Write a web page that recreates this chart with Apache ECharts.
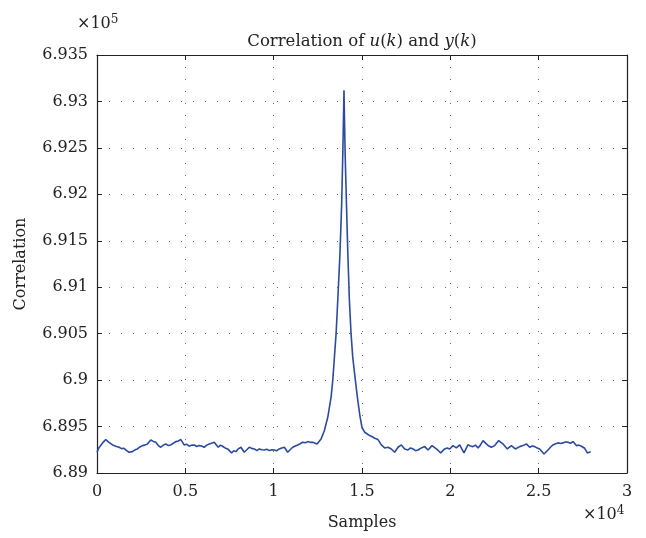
<!DOCTYPE html>
<html>
<head>
<meta charset="utf-8">
<script src="https://cdn.jsdelivr.net/npm/echarts@6/dist/echarts.min.js"></script>
<style>
html,body{margin:0;padding:0;background:#fff;}
#c1{width:646px;height:538px;}
</style>
</head>
<body>
<div id="c1"></div>
<script type="text/javascript">
// sample index (raw) and correlation (raw)
var samples = [
  0, 100, 208, 350, 491, 590, 681, 820, 964, 1100, 1248, 1390, 1531, 1680, 1815, 2004, 2150, 2287,
  2430, 2571, 2700, 2854, 3043, 3190, 3327, 3470, 3611, 3750, 3894, 4040, 4178, 4320, 4461, 4600, 4745, 4934,
  5080, 5217, 5360, 5501, 5640, 5784, 5920, 6068, 6210, 6352, 6490, 6635, 6862, 6990, 7108, 7250, 7391, 7618,
  7740, 7864, 8000, 8147, 8336, 8480, 8620, 8760, 8904, 9050, 9187, 9330, 9471, 9610, 9754, 9900, 10038, 10180, 10321,
  10460, 10605, 10794, 10930, 11078, 11220, 11361, 11500, 11645, 11790, 11928, 12070, 12212, 12457, 12684, 12873,
  13062, 13252, 13346, 13440, 13534, 13628, 13750, 13850, 13920, 13960,
  13980, 14010, 14050, 14120, 14200, 14286, 14380, 14474, 14624, 14756,
  14887, 15000, 15151, 15300, 15434, 15580, 15717, 15906, 16094, 16283, 16472, 16660,
  16849, 17038, 17227, 17415, 17604, 17750, 17887, 18030, 18170, 18359, 18548, 18736,
  18963, 19208, 19330, 19453, 19680, 19820, 19963, 20152, 20340, 20529, 20650, 20774, 21000,
  21140, 21283, 21420, 21566, 21700, 21850, 22038, 22180, 22321, 22510, 22737, 22860, 22982, 23227, 23453,
  23680, 23925, 24114, 24303, 24492, 24640, 24775, 24920, 25058, 25303, 25529, 25680, 25813,
  25950, 26096, 26240, 26379, 26520, 26662, 26800, 26945, 27134, 27280, 27417, 27605, 27756, 27945
];
var correlation = [
  689223, 689270, 689295, 689330, 689360, 689340, 689331, 689310, 689295, 689285, 689277, 689262, 689266, 689240, 689223, 689230, 689250, 689259,
  689280, 689295, 689300, 689313, 689356, 689340, 689331, 689295, 689277, 689300, 689313, 689295, 689302, 689320, 689338, 689345, 689360, 689302,
  689310, 689288, 689300, 689302, 689285, 689295, 689290, 689277, 689300, 689313, 689320, 689331, 689277, 689300, 689288, 689270, 689259, 689216,
  689240, 689230, 689260, 689277, 689223, 689250, 689277, 689265, 689259, 689240, 689259, 689250, 689248, 689255, 689241, 689250, 689248, 689240, 689259,
  689270, 689277, 689223, 689250, 689277, 689290, 689302, 689315, 689331, 689325, 689338, 689330, 689331, 689313, 689367, 689457,
  689600, 689820, 690000, 690250, 690500, 690860, 691350, 691900, 692500, 692900,
  693120, 692800, 692400, 691900, 691350, 690860, 690500, 690250, 690000, 689790,
  689610, 689490, 689439, 689420, 689403, 689390, 689374, 689360, 689302, 689270, 689277, 689259,
  689223, 689277, 689302, 689259, 689248, 689270, 689259, 689240, 689248, 689270, 689284, 689248,
  689295, 689259, 689240, 689216, 689259, 689270, 689259, 689295, 689270, 689302, 689260, 689216, 689306,
  689290, 689284, 689300, 689270, 689300, 689349, 689313, 689290, 689277, 689295, 689349, 689330, 689313, 689259, 689295,
  689259, 689284, 689295, 689313, 689277, 689290, 689284, 689270, 689259, 689205, 689248, 689280, 689302,
  689315, 689324, 689318, 689324, 689335, 689331, 689320, 689338, 689295, 689300, 689288, 689266, 689216, 689230
];
var xTicks = ['0', '0.5', '1', '1.5', '2', '2.5', '3'];
var yTicks = ['6.89', '6.895', '6.9', '6.905', '6.91', '6.915', '6.92', '6.925', '6.93', '6.935'];

var font = '"DejaVu Serif", "Liberation Serif", serif';
var txt = '#222';
var fs = 16;

var points = [];
for (var i = 0; i < samples.length; ++i) {
  points.push([samples[i], correlation[i]]);
}

var chart = echarts.init(document.getElementById('c1'));
var gridLine = {show: true, lineStyle: {color: '#666', width: 1, type: [1, 11]}};
var frame = {show: true, onZero: false, lineStyle: {color: '#222', width: 1.2}};
var tick = {show: true, inside: true, length: 5, lineStyle: {color: '#222'}};
var sup = function (p) {
  return {
    n: {fontFamily: font, fontSize: fs, fill: txt},
    s: {fontFamily: font, fontSize: 12, fill: txt, verticalAlign: 'top', padding: [0, 0, 8, 0]}
  };
};

var option = {
  animation: false,
  backgroundColor: '#fff',
  grid: {left: 97, right: 19, top: 55, bottom: 65},
  xAxis: [{
    type: 'value', position: 'bottom', min: 0, max: 30000, interval: 5000,
    name: 'Samples', nameLocation: 'middle', nameGap: 42,
    nameTextStyle: {fontFamily: font, fontSize: fs, color: txt},
    axisLine: frame, axisTick: tick, splitLine: gridLine,
    axisLabel: {
      margin: 11, fontFamily: font, fontSize: fs, color: txt,
      formatter: function (v) { return xTicks[Math.round(v / 5000)]; }
    }
  }, {
    type: 'value', position: 'top', min: 0, max: 30000, interval: 5000,
    axisLine: frame, axisTick: tick, splitLine: {show: false}, axisLabel: {show: false}
  }],
  yAxis: [{
    type: 'value', position: 'left', min: 689000, max: 693500, interval: 500,
    name: 'Correlation', nameLocation: 'middle', nameGap: 68,
    nameTextStyle: {fontFamily: font, fontSize: fs, color: txt},
    axisLine: frame, axisTick: tick, splitLine: gridLine,
    axisLabel: {
      margin: 9, fontFamily: font, fontSize: fs, color: txt,
      formatter: function (v) { return yTicks[Math.round((v - 689000) / 500)]; }
    }
  }, {
    type: 'value', position: 'right', min: 689000, max: 693500, interval: 500,
    axisLine: frame, axisTick: tick, splitLine: {show: false}, axisLabel: {show: false}
  }],
  graphic: [{
    // title, centred over the plot area
    type: 'text', x: 362, y: 42,
    style: {
      text: '{n|Correlation of }{i|u}{n|(}{i|k}{n|) and }{i|y}{n|(}{i|k}{n|)}',
      align: 'center', verticalAlign: 'middle',
      rich: {
        n: {fontFamily: font, fontSize: 16.5, fill: txt},
        i: {fontFamily: font, fontSize: 16.5, fill: txt, fontStyle: 'italic'}
      }
    }
  }, {
    type: 'text', left: 77, top: 14,
    style: {text: '{n|×10}{s|5}', rich: sup()}
  }, {
    type: 'text', left: 583, top: 505,
    style: {text: '{n|×10}{s|4}', rich: sup()}
  }],
  series: [{
    name: 'Correlation',
    type: 'line',
    data: points,
    showSymbol: false,
    symbol: 'none',
    lineStyle: {color: '#2d4b9e', width: 1.6}
  }]
};
chart.setOption(option);
</script>
</body>
</html>
